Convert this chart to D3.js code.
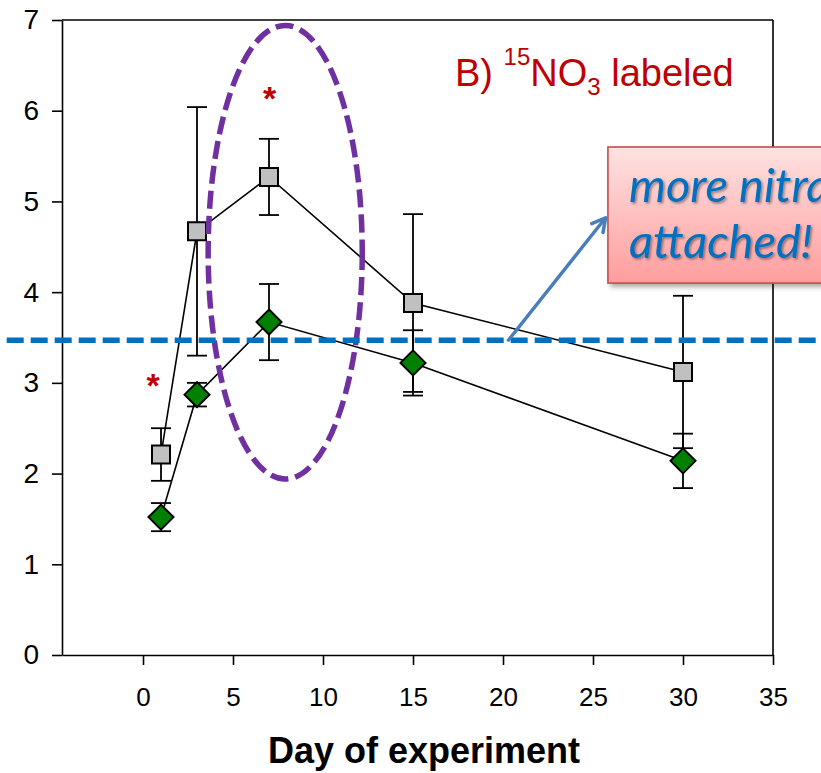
<!DOCTYPE html>
<html>
<head>
<meta charset="utf-8">
<script src="https://cdn.jsdelivr.net/npm/d3@7"></script>
<style>
  body { margin: 0; background: #fff; }
  svg { display: block; }
  text { font-family: "Liberation Sans", Arial, sans-serif; }
</style>
</head>
<body>
<svg id="chart" width="821" height="773"></svg>
<script>
// Sampling days and the two measured series (mean ± error)
const days = [1, 3, 7, 15, 30];
const grayMean = [2.21, 4.67, 5.27, 3.88, 3.12];
const grayErr = [0.29, 1.37, 0.42, 0.98, 0.84];
const greenMean = [1.52, 2.87, 3.67, 3.22, 2.14];
const greenErr = [0.155, 0.13, 0.42, 0.36, 0.30];

// Axis ticks and domains
const xTicks = [0, 5, 10, 15, 20, 25, 30, 35];
const yTicks = [0, 1, 2, 3, 4, 5, 6, 7];
const xDomain = [-4.5, 35];
const yDomain = [0, 7];

// Annotations, in data units
const thresholdLevel = 3.47;
const stars = [{ day: 7.04, value: 6.22 }, { day: 0.56, value: 3.05 }];
const highlight = { day: 7.9, value: 4.44, rDay: 4.28, rValue: 2.5 };
const arrow = { from: { day: 20.3, value: 3.47 }, to: { day: 25.7, value: 4.82 } };
const callout = { day: 25.83, top: 5.60, bottom: 4.10, lines: ["more nitrate", "attached!"] };

const svg = d3.select("#chart");
const x = d3.scaleLinear().domain(xDomain).range([62, 773]);
const y = d3.scaleLinear().domain(yDomain).range([655, 20]);

const defs = svg.append("defs");
const grad = defs.append("linearGradient").attr("id", "boxFill")
  .attr("x1", 0).attr("y1", 0).attr("x2", 0).attr("y2", 1);
grad.append("stop").attr("offset", "0%").attr("stop-color", "#FFE2E2");
grad.append("stop").attr("offset", "100%").attr("stop-color", "#FF9D9D");
defs.append("filter").attr("id", "boxShadow").attr("x", "-10%").attr("y", "-10%")
  .attr("width", "130%").attr("height", "130%")
  .append("feDropShadow").attr("dx", 3).attr("dy", 3).attr("stdDeviation", 2.5)
  .attr("flood-color", "#000").attr("flood-opacity", 0.35);
defs.append("filter").attr("id", "textShadow").attr("x", "-5%").attr("y", "-20%")
  .attr("width", "115%").attr("height", "150%")
  .append("feDropShadow").attr("dx", 1.6).attr("dy", 1.6).attr("stdDeviation", 1)
  .attr("flood-color", "#000").attr("flood-opacity", 0.4);

// Frame
const frame = svg.append("g").attr("stroke", "#000").attr("stroke-width", 1.6);
frame.append("line").attr("x1", x.range()[0]).attr("x2", x.range()[1])
  .attr("y1", y(yDomain[1])).attr("y2", y(yDomain[1]));
frame.append("line").attr("x1", x(xDomain[1])).attr("x2", x(xDomain[1]))
  .attr("y1", y(yDomain[0])).attr("y2", y(yDomain[1]));

// Axes
const yAxis = svg.append("g").attr("transform", `translate(${x(xDomain[0])},0)`)
  .call(d3.axisLeft(y).tickValues(yTicks).tickFormat(d3.format("d"))
    .tickSize(10).tickPadding(13).tickSizeOuter(0));
const xAxis = svg.append("g").attr("transform", `translate(0,${y(0)})`)
  .call(d3.axisBottom(x).tickValues(xTicks).tickFormat(d3.format("d"))
    .tickSize(10).tickPadding(23).tickSizeOuter(0));
[yAxis, xAxis].forEach(g => {
  g.select(".domain").attr("stroke", "#000").attr("stroke-width", 1.6);
  g.selectAll(".tick line").attr("stroke", "#000").attr("stroke-width", 1.6);
  g.selectAll(".tick text").attr("fill", "#000")
    .style("font-family", '"Liberation Sans", Arial, sans-serif');
});
yAxis.selectAll(".tick text").style("font-size", "28px");
xAxis.selectAll(".tick text").style("font-size", "26px");

svg.append("text").attr("x", 424).attr("y", 763).attr("text-anchor", "middle")
  .style("font-size", "36px").style("font-weight", "bold").text("Day of experiment");

// Series
function drawSeries(means, errs, marker) {
  const pts = days.map((d, i) => ({ day: d, mean: means[i], err: errs[i] }));
  const g = svg.append("g");
  const eb = g.append("g").attr("stroke", "#000").attr("stroke-width", 1.8);
  pts.forEach(p => {
    const cx = x(p.day);
    eb.append("line").attr("x1", cx).attr("x2", cx)
      .attr("y1", y(p.mean + p.err)).attr("y2", y(p.mean - p.err));
    [p.mean + p.err, p.mean - p.err].forEach(v => {
      eb.append("line").attr("x1", cx - 10).attr("x2", cx + 10)
        .attr("y1", y(v)).attr("y2", y(v));
    });
  });
  g.append("path").datum(pts)
    .attr("d", d3.line().x(p => x(p.day)).y(p => y(p.mean)))
    .attr("fill", "none").attr("stroke", "#000").attr("stroke-width", 1.6);
  g.selectAll(".m").data(pts).join("path")
    .attr("transform", p => `translate(${x(p.day)},${y(p.mean)})`)
    .attr("d", marker.d)
    .attr("fill", marker.fill).attr("stroke", "#000").attr("stroke-width", 2);
}
drawSeries(grayMean, grayErr, { d: "M-9,-9H9V9H-9Z", fill: "#C0C0C0" });
drawSeries(greenMean, greenErr, { d: "M0,-12.5L12.5,0L0,12.5L-12.5,0Z", fill: "#008000" });

// Significance stars
svg.selectAll(".star").data(stars).join("text")
  .attr("x", s => x(s.day)).attr("y", s => y(s.value) + 19)
  .attr("text-anchor", "middle").attr("fill", "#C00000")
  .style("font-size", "34px").style("font-weight", "bold").text("*");

// Highlighted period
svg.append("ellipse")
  .attr("cx", x(highlight.day)).attr("cy", y(highlight.value))
  .attr("rx", x(highlight.day + highlight.rDay) - x(highlight.day))
  .attr("ry", y(highlight.value - highlight.rValue) - y(highlight.value))
  .attr("fill", "none").attr("stroke", "#7030A0").attr("stroke-width", 5.5)
  .attr("stroke-dasharray", "18,7");

// Reference level
svg.append("line").attr("x1", 0).attr("x2", 821)
  .attr("y1", y(thresholdLevel)).attr("y2", y(thresholdLevel))
  .attr("stroke", "#0070C0").attr("stroke-width", 5.5)
  .attr("stroke-dasharray", "17,7").attr("stroke-dashoffset", 17.3);

// Arrow to the callout
const ax1 = x(arrow.from.day), ay1 = y(arrow.from.value);
const ax2 = x(arrow.to.day), ay2 = y(arrow.to.value);
const ang = Math.atan2(ay2 - ay1, ax2 - ax1);
const head = 15, spread = 0.5;
svg.append("path")
  .attr("d", `M${ax1},${ay1}L${ax2},${ay2}` +
    `M${ax2 - head * Math.cos(ang - spread)},${ay2 - head * Math.sin(ang - spread)}` +
    `L${ax2},${ay2}L${ax2 - head * Math.cos(ang + spread)},${ay2 - head * Math.sin(ang + spread)}`)
  .attr("fill", "none").attr("stroke", "#4A7EBB").attr("stroke-width", 3.5)
  .attr("stroke-linecap", "round").attr("stroke-linejoin", "round");

// Callout box (runs past the right edge of the canvas)
const bx = x(callout.day), by = y(callout.top), bh = y(callout.bottom) - y(callout.top);
svg.append("rect").attr("x", bx).attr("y", by).attr("width", 300).attr("height", bh)
  .attr("fill", "url(#boxFill)").attr("stroke", "#C0504D").attr("stroke-width", 1.6)
  .attr("filter", "url(#boxShadow)");
svg.append("g").attr("filter", "url(#textShadow)")
  .selectAll("text").data(callout.lines).join("text")
  .attr("x", bx + 21).attr("y", (d, i) => by + 55 + i * 56)
  .attr("fill", "#0070C0")
  .style("font-family", "Lato, 'Open Sans', sans-serif")
  .style("font-style", "italic").style("font-size", "47px")
  .text(d => d);

// Panel title
const title = svg.append("text").attr("x", 455).attr("y", 86)
  .attr("fill", "#C00000").style("font-size", "38px");
title.append("tspan").text("B) ");
title.append("tspan").attr("dy", -21).style("font-size", "24px").text("15");
title.append("tspan").attr("dy", 21).text("NO");
title.append("tspan").attr("dy", 9).style("font-size", "24px").text("3");
title.append("tspan").attr("dy", -9).text(" labeled");
</script>
</body>
</html>
